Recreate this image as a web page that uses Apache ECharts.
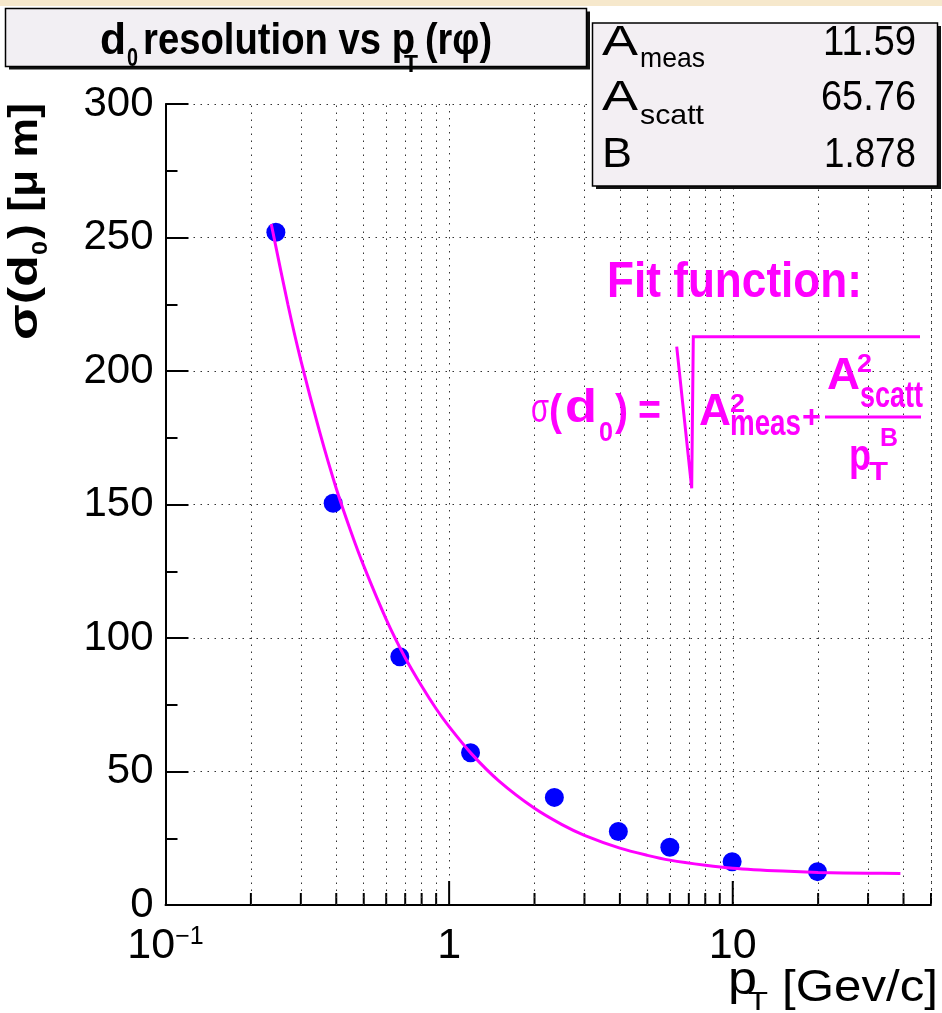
<!DOCTYPE html>
<html><head><meta charset="utf-8">
<script src="https://cdn.jsdelivr.net/npm/echarts@6/dist/echarts.min.js"></script>
<style>html,body{margin:0;padding:0;background:#fff}#c{width:942px;height:1013px}</style>
</head><body><div id="c"></div>
<script>
// ---- data ----
const ptValues = [0.245, 0.39, 0.67, 1.19, 2.35, 3.95, 6.0, 9.95, 19.9];
const sigmaValues = [252, 150.5, 93, 57, 40.3, 27.5, 21.6, 16.2, 12.5];
const fitPt = [0.236, 0.27, 0.3, 0.35, 0.4, 0.45, 0.5, 0.6, 0.7, 0.8, 0.9, 1.0, 1.2, 1.5, 2, 2.5, 3, 4, 5, 6, 8, 10, 15, 20, 30, 39];
const fitSigma = [255, 225, 204, 177, 156, 140, 127, 107, 92.6, 82, 73.5, 66.8, 56.6, 46.4, 36.2, 30.1, 26.1, 21.3, 18.6, 16.8, 14.9, 13.8, 12.7, 12.2, 11.9, 11.8];
const xGridValues = [0.2, 0.3, 0.4, 0.5, 0.6, 0.7, 0.8, 0.9, 2, 3, 4, 5, 6, 7, 8, 9, 20, 30, 40, 50];
const xMinorTicks = [0.2, 0.3, 0.4, 0.5, 0.6, 0.7, 0.8, 0.9, 2, 3, 4, 5, 6, 7, 8, 9, 20, 30, 40, 50];
const xMajorTicks = [1, 10];
const statNames = ['meas', 'scatt', 'B'];
const statValues = ['11.59', '65.76', '1.878'];
const titleText = ['d', '0', 'resolution vs p', 'T', '(r\u03c6)'];

const SANS = "'Liberation Sans',Arial,sans-serif";
const MAG = '#ff00ff';

const mctx = document.createElement('canvas').getContext('2d');
function fontStr(size, weight) { return (weight || 'normal') + ' ' + size + 'px ' + SANS; }
function measure(text, font) { mctx.font = font; return mctx.measureText(text).width; }
// text placed with its left edge at x1 and right edge at x2 (width fitted with scaleX), baseline at base
function TX(text, x1, x2, base, size, opt) {
  opt = opt || {};
  const font = fontStr(size, opt.weight);
  const sx = (x2 - x1) / measure(text, font);
  return {
    type: 'text', x: x1, y: base - 0.35 * size, scaleX: sx, z: 100,
    style: {text: text, fill: opt.fill || '#000', align: 'left', verticalAlign: 'middle', font: font}
  };
}

const chart = echarts.init(document.getElementById('c'), null, {renderer: 'canvas'});

const graphics = [];
// top band
graphics.push({type: 'rect', shape: {x: 0, y: 0, width: 942, height: 6}, style: {fill: '#f6e8cc'}, z: 1});
// title box
graphics.push({type: 'rect', shape: {x: 9, y: 11.5, width: 581, height: 58}, style: {fill: '#111'}, z: 50});
graphics.push({type: 'rect', shape: {x: 5.5, y: 8.5, width: 581, height: 58}, style: {fill: '#f2eff3', stroke: '#000', lineWidth: 1.5}, z: 51});
graphics.push(TX(titleText[0], 100, 126, 57, 44, {weight: 'bold'}));
graphics.push(TX(titleText[1], 127, 138, 68, 26, {weight: 'bold'}));
graphics.push(TX(titleText[2], 143, 415, 57, 44, {weight: 'bold'}));
graphics.push(TX(titleText[3], 404, 418, 74, 24, {weight: 'bold'}));
graphics.push(TX(titleText[4], 425, 492, 57, 44, {weight: 'bold'}));
// stats box
graphics.push({type: 'rect', shape: {x: 596, y: 26, width: 345, height: 163}, style: {fill: '#111'}, z: 50});
graphics.push({type: 'rect', shape: {x: 592.5, y: 23, width: 345, height: 163}, style: {fill: '#f3eff3', stroke: '#000', lineWidth: 1.5}, z: 51});
const rowBase = [58, 113, 170];
graphics.push(TX('A', 602, 638, rowBase[0], 42));
graphics.push(TX(statNames[0], 640, 705, rowBase[0] + 11, 28));
graphics.push(TX('A', 602, 638, rowBase[1], 42));
graphics.push(TX(statNames[1], 640, 704, rowBase[1] + 13, 28));
graphics.push(TX(statNames[2], 602, 632, rowBase[2], 42));
graphics.push(TX(statValues[0], 823, 916, rowBase[0], 42));
graphics.push(TX(statValues[1], 821, 916, rowBase[1], 42));
graphics.push(TX(statValues[2], 824, 916, rowBase[2], 42));
// fit function annotation
const M = {weight: 'bold', fill: MAG};
graphics.push(TX('Fit function:', 607, 862, 301, 50, M));
graphics.push(TX('\u03c3', 531, 549, 425, 40, {fill: MAG}));
graphics.push(TX('(', 549, 562, 428, 44, M));
graphics.push(TX('d', 565, 597, 425, 46, M));
graphics.push(TX('0', 599, 613, 443, 28, M));
graphics.push(TX(')', 615, 628, 428, 44, M));
graphics.push(TX('=', 638, 661, 428, 44, M));
graphics.push({type: 'polyline', shape: {points: [[676.7, 346.7], [691.7, 488.3], [693.3, 336.7], [920, 336.7]]}, style: {stroke: MAG, lineWidth: 3, fill: null}, z: 100});
graphics.push(TX('A', 699, 731, 428, 44, M));
graphics.push(TX('2', 730, 745, 414, 26, M));
graphics.push(TX('meas', 730, 801, 438, 36, M));
graphics.push(TX('+', 802, 821, 429, 32, M));
graphics.push({type: 'line', shape: {x1: 825, y1: 417, x2: 921, y2: 417}, style: {stroke: MAG, lineWidth: 3}, z: 100});
graphics.push(TX('A', 827, 860, 392, 44, M));
graphics.push(TX('2', 857, 872, 374, 26, M));
graphics.push(TX('scatt', 860, 923, 410, 36, M));
graphics.push(TX('p', 849, 871, 473, 44, M));
graphics.push(TX('B', 880, 898, 448, 26, M));
graphics.push(TX('T', 869, 888, 482, 26, M));
// axis titles
graphics.push(TX('p', 728, 757, 997, 46));
graphics.push(TX('T', 748, 768, 1012, 26));
graphics.push(TX('[Gev/c]', 782, 938, 1004, 44));
const yTitle = {type: 'group', x: 40, y: 0, rotation: Math.PI / 2, z: 100, children: []};
yTitle.children.push(TX('\u03c3(d', -340, -255, 0, 40, {weight: 'bold'}));
yTitle.children.push(TX('0', -255, -241, 9, 22, {weight: 'bold'}));
yTitle.children.push(TX(') [\u03bc m]', -239, -103, 0, 40, {weight: 'bold'}));
graphics.push(yTitle);

const option = {
  backgroundColor: '#ffffff',
  animation: false,
  grid: {left: 165.5, top: 104, width: 765.5, height: 801, containLabel: false},
  xAxis: {
    type: 'log', logBase: 10, min: 0.1, max: 50,
    axisLine: {lineStyle: {color: '#000', width: 2}},
    axisTick: {show: false},
    splitLine: {show: true, lineStyle: {color: '#333', width: 1, type: [1.5, 5.5]}},
    axisLabel: {
      margin: 20, color: '#000', fontFamily: SANS, fontSize: 43,
      formatter: function (v) {
        if (Math.abs(v - 0.1) < 1e-9) return '{b|10}{s|\u22121}';
        if (Math.abs(v - 1) < 1e-9) return '1';
        if (Math.abs(v - 10) < 1e-9) return '10';
        return '';
      },
      rich: {
        b: {fontFamily: SANS, fontSize: 43, color: '#000', verticalAlign: 'bottom', lineHeight: 43},
        s: {fontFamily: SANS, fontSize: 25, color: '#000', verticalAlign: 'top', lineHeight: 25}
      }
    }
  },
  yAxis: {
    type: 'value', min: 0, max: 300, interval: 50,
    axisLine: {show: true, lineStyle: {color: '#000', width: 2}},
    axisTick: {show: true, inside: true, length: 23, lineStyle: {color: '#000', width: 2}},
    minorTick: {show: true, splitNumber: 2, length: 12, lineStyle: {color: '#000', width: 2}},
    splitLine: {show: true, lineStyle: {color: '#333', width: 1, type: [1.5, 5.5]}},
    axisLabel: {margin: 12, color: '#000', fontFamily: SANS, fontSize: 42}
  },
  graphic: {elements: graphics},
  series: [
    {
      type: 'scatter', name: 'xticks-minor', silent: true, z: 3,
      data: xMinorTicks.map(v => [v, 0]),
      symbol: 'rect', symbolSize: [2, 12], symbolOffset: [0, -6],
      itemStyle: {color: '#000', opacity: 1},
      markLine: {
        silent: true, symbol: 'none', label: {show: false}, animation: false,
        lineStyle: {color: '#333', width: 1, type: [1.5, 5.5]},
        emphasis: {disabled: true},
        data: xGridValues.map(v => ({xAxis: v}))
      }
    },
    {
      type: 'scatter', name: 'xticks-major', silent: true, z: 3,
      data: xMajorTicks.map(v => [v, 0]),
      symbol: 'rect', symbolSize: [2, 24], symbolOffset: [0, -12],
      itemStyle: {color: '#000', opacity: 1}
    },
    {
      type: 'scatter', name: 'data', z: 5,
      data: ptValues.map((v, i) => [v, sigmaValues[i]]),
      symbol: 'circle', symbolSize: 19,
      itemStyle: {color: '#0000ff', opacity: 1}
    },
    {
      type: 'line', name: 'fit', z: 6, smooth: 0.3, showSymbol: false, silent: true,
      data: fitPt.map((v, i) => [v, fitSigma[i]]),
      lineStyle: {color: MAG, width: 3}
    }
  ]
};
chart.setOption(option);
</script>
</body></html>
